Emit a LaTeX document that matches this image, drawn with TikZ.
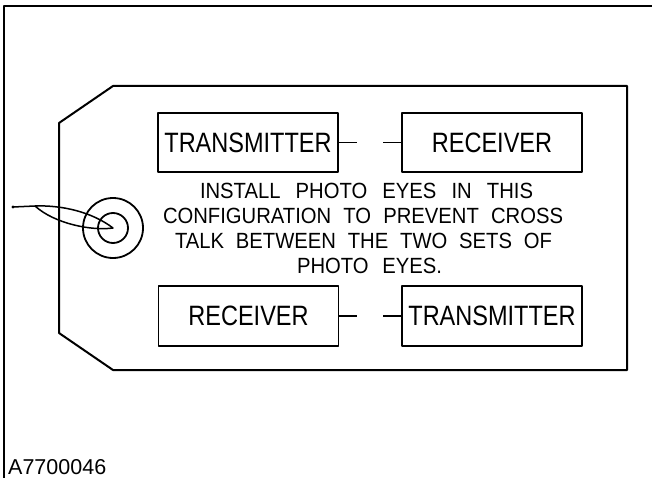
\documentclass[tikz,border=0pt]{standalone}
\usepackage{fontspec}
\setmainfont{Liberation Sans}
% narrow drafting-style lettering for the boxes and for the note
\newfontfamily\boxfont[FakeStretch=0.84]{Liberation Sans}
\newfontfamily\notefont[FakeStretch=0.92]{Liberation Sans}
\begin{document}
\begin{tikzpicture}[x=1pt, y=-1pt, line join=round,
  heavy/.style={line width=2pt},
  boxed/.style={draw, line width=1.6pt, minimum width=180pt, minimum height=59pt,
    inner sep=0pt, font=\boxfont\fontsize{28}{28}\selectfont},
  note/.style={anchor=base, inner sep=0pt, font=\notefont\fontsize{22}{22}\selectfont},
  stub/.style={line width=1.6pt},
  ring/.style={circle, draw, line width=1.8pt, inner sep=0pt}]
\useasboundingbox (0,0) rectangle (652,478);

% sheet frame (left and top edges)
\draw[heavy] (4,478) -- (4,6) -- (652,6);

% tag outline with clipped left corners
\draw[heavy] (113,86) -- (627,86) -- (627,370) -- (113,370)
  -- (59,333) -- (59,123) -- cycle;

% eyelet
\node[ring, minimum size=60pt] (eyeout) at (113,228) {};
\node[ring, minimum size=30pt] (eyein) at (113,228) {};

% string through the eyelet
\coordinate (tail) at (13,207);
\coordinate (knot) at (35,206);
\fill (tail) circle (1.6pt);
\draw[line width=1.5pt] (tail) -- (knot)
  .. controls (62,205) and (92,212) .. (eyein.center)
  .. controls (92,231) and (55,224) .. (knot);

% upper pair
\node[boxed] (tx1) at (248,142.5) {TRANSMITTER};
\node[boxed] (rx1) at (492,142.5) {RECEIVER};
\coordinate (tx1end) at (357,142.5);
\coordinate (rx1end) at (383,142.5);
\draw[stub] (tx1.east) -- (tx1end);
\draw[stub] (rx1end) -- (rx1.west);

% instruction text
\node[note] (l1) at (366.5,198.5) {\makebox[333pt][s]{INSTALL PHOTO EYES IN THIS}};
\node[note] (l2) at (363,223.5) {\makebox[400pt][s]{CONFIGURATION TO PREVENT CROSS}};
\node[note] (l3) at (363.5,248) {\makebox[377pt][s]{TALK BETWEEN THE TWO SETS OF}};
\node[note] (l4) at (369.5,273) {\makebox[145pt][s]{PHOTO EYES.}};

% lower pair
\node[boxed, minimum height=60pt] (rx2) at (248.5,316) {RECEIVER};
\node[boxed, minimum height=60pt] (tx2) at (492,316) {TRANSMITTER};
\coordinate (rx2end) at (357,316);
\coordinate (tx2end) at (383,316);
\draw[stub] (rx2.east) -- (rx2end);
\draw[stub] (tx2end) -- (tx2.west);

% drawing number
\node[anchor=base west, inner sep=0pt, font=\fontsize{21.5}{21.5}\selectfont]
  (code) at (8,474) {A7700046};
\end{tikzpicture}
\end{document}
